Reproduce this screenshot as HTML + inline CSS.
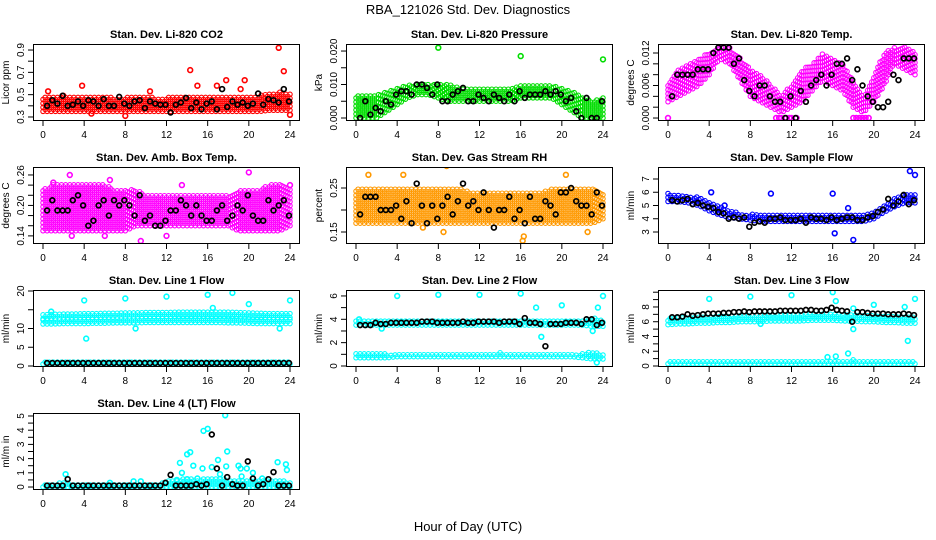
<!DOCTYPE html>
<html><head><meta charset="utf-8"><style>
html,body{margin:0;padding:0;background:#fff;}
svg{display:block;font-family:"Liberation Sans",Arial,sans-serif;}
</style></head><body>
<svg id="chart" width="936" height="540" viewBox="0 0 936 540" xmlns="http://www.w3.org/2000/svg">
<rect x="0" y="0" width="936" height="540" fill="#fff"/>
<text x="468" y="14" text-anchor="middle" font-size="13">RBA_121026  Std. Dev. Diagnostics</text>
<text x="468" y="531" text-anchor="middle" font-size="13">Hour of Day (UTC)</text>
</svg>
<script>
// ---- data (hour of day vs std. dev.) ----
const hourTicks = [0,4,8,12,16,20,24];
const bandHours = [0,1,2,3,4,5,6,7,8,9,10,11,12,13,14,15,16,17,18,19,20,21,22,23,24];

const co2Lo = [0.35,0.35,0.35,0.35,0.35,0.35,0.35,0.35,0.35,0.35,0.35,0.35,0.35,0.35,0.35,0.35,0.35,0.35,0.35,0.35,0.35,0.35,0.36,0.36,0.36];
const co2Hi = [0.47,0.48,0.49,0.48,0.48,0.48,0.48,0.47,0.47,0.48,0.48,0.47,0.47,0.48,0.48,0.48,0.48,0.48,0.48,0.48,0.48,0.49,0.51,0.52,0.50];
const co2Black = [0.40,0.45,0.42,0.49,0.40,0.41,0.44,0.40,0.45,0.44,0.40,0.46,0.40,0.40,0.48,0.42,0.40,0.44,0.45,0.38,0.44,0.42,0.41,0.41,0.34,0.41,0.43,0.47,0.38,0.43,0.37,0.42,0.44,0.37,0.55,0.39,0.44,0.41,0.43,0.40,0.42,0.51,0.41,0.46,0.45,0.43,0.55,0.44];
const co2Out = [[0.5,0.53],[3.8,0.58],[4.7,0.33],[8,0.31],[10.4,0.53],[14.3,0.72],[15,0.58],[17.8,0.63],[19.6,0.63],[22.9,0.92],[23.4,0.71],[24,0.32],[19.2,0.55],[16.9,0.58]];

const presLo = [0.000,0.000,0.000,0.002,0.004,0.006,0.007,0.007,0.006,0.005,0.005,0.005,0.005,0.005,0.005,0.005,0.006,0.006,0.006,0.006,0.004,0.002,0.000,0.000,0.000];
const presHi = [0.007,0.007,0.007,0.008,0.009,0.010,0.010,0.010,0.010,0.010,0.009,0.009,0.009,0.009,0.009,0.009,0.010,0.010,0.010,0.010,0.009,0.008,0.006,0.005,0.006];
const presBlack = [0.000,0.005,0.001,0.003,0.002,0.005,0.004,0.007,0.008,0.008,0.007,0.010,0.010,0.009,0.007,0.010,0.005,0.005,0.007,0.008,0.009,0.005,0.005,0.007,0.006,0.005,0.007,0.006,0.005,0.007,0.005,0.008,0.006,0.007,0.007,0.007,0.008,0.007,0.008,0.007,0.005,0.006,0.002,0.000,0.006,0.000,0.000,0.005];
const presOut = [[8,0.021],[16,0.0185],[24,0.0175]];

const tempLo = [0.003,0.004,0.005,0.006,0.008,0.011,0.010,0.007,0.004,0.003,0.002,0.001,0.002,0.003,0.005,0.007,0.006,0.005,0.002,0.001,0.003,0.006,0.010,0.009,0.008];
const tempHi = [0.006,0.009,0.010,0.011,0.012,0.013,0.013,0.011,0.009,0.008,0.006,0.004,0.006,0.009,0.010,0.012,0.011,0.010,0.007,0.004,0.008,0.012,0.013,0.013,0.012];
const tempBlack = [0.004,0.008,0.008,0.008,0.008,0.009,0.009,0.009,0.012,0.013,0.013,0.013,0.010,0.011,0.007,0.005,0.004,0.006,0.006,0.004,0.003,0.003,0.000,0.004,0.000,0.005,0.003,0.006,0.007,0.008,0.006,0.008,0.010,0.010,0.011,0.007,0.009,0.006,0.004,0.003,0.002,0.002,0.003,0.008,0.007,0.011,0.011,0.011];
const tempOut = [[0,0],[10.5,0],[10.8,0],[11,0],[11.5,0],[11.8,0],[12,0],[12.5,0],[18,0],[18.3,0],[18.6,0],[18.9,0],[19.2,0],[19.5,0]];

const ambLo = [0.15,0.15,0.15,0.15,0.15,0.15,0.15,0.15,0.15,0.16,0.16,0.16,0.16,0.16,0.16,0.16,0.16,0.16,0.16,0.15,0.15,0.15,0.15,0.15,0.16];
const ambHi = [0.23,0.24,0.24,0.24,0.24,0.24,0.24,0.23,0.23,0.23,0.22,0.22,0.22,0.22,0.22,0.22,0.22,0.22,0.22,0.23,0.23,0.23,0.24,0.24,0.23];
const ambBlack = [0.19,0.21,0.19,0.19,0.19,0.21,0.22,0.20,0.16,0.17,0.20,0.21,0.18,0.21,0.20,0.21,0.20,0.18,0.22,0.17,0.18,0.16,0.16,0.17,0.19,0.19,0.21,0.20,0.18,0.20,0.18,0.17,0.17,0.19,0.20,0.17,0.18,0.20,0.19,0.22,0.18,0.17,0.17,0.21,0.19,0.20,0.21,0.18];
const ambOut = [[1,0.245],[2.6,0.26],[6.5,0.25],[9.5,0.13],[6,0.14],[12,0.14],[20,0.265],[24,0.24],[13.5,0.24],[2.8,0.14]];

const rhLo = [0.17,0.17,0.17,0.17,0.17,0.17,0.17,0.17,0.17,0.17,0.17,0.17,0.17,0.17,0.17,0.17,0.17,0.17,0.17,0.17,0.17,0.17,0.17,0.17,0.18];
const rhHi = [0.25,0.25,0.25,0.25,0.25,0.25,0.25,0.25,0.25,0.25,0.25,0.24,0.24,0.24,0.24,0.24,0.24,0.24,0.24,0.25,0.25,0.25,0.25,0.25,0.24];
const rhBlack = [0.19,0.23,0.23,0.23,0.20,0.20,0.20,0.21,0.18,0.22,0.17,0.26,0.21,0.17,0.21,0.18,0.21,0.23,0.19,0.22,0.26,0.21,0.22,0.20,0.24,0.20,0.16,0.20,0.20,0.23,0.18,0.20,0.17,0.23,0.18,0.18,0.22,0.21,0.19,0.24,0.24,0.25,0.22,0.21,0.21,0.19,0.24,0.21];
const rhOut = [[1.2,0.28],[4.6,0.28],[8.8,0.30],[6.5,0.16],[8.5,0.15],[16.2,0.13],[16.3,0.14],[22.5,0.15],[20.4,0.28]];

const flowLo = [5.3,5.3,5.2,5.0,4.6,4.3,4.1,4.0,3.9,3.8,3.8,3.8,3.8,3.8,3.8,3.8,3.8,3.8,3.8,3.8,4.0,4.5,4.9,5.2,5.2];
const flowHi = [5.9,5.8,5.7,5.6,5.2,4.9,4.6,4.4,4.3,4.3,4.3,4.3,4.3,4.3,4.3,4.3,4.3,4.3,4.3,4.3,4.5,5.0,5.5,5.8,5.8];
const flowBlack = [5.4,5.3,5.4,5.5,5.1,5.2,5.0,4.9,4.8,4.5,4.4,4.0,4.1,4.0,4.1,3.4,3.7,3.8,3.7,4.0,4.0,4.1,3.9,3.9,3.9,4.0,3.7,4.1,4.0,4.0,3.9,4.1,3.9,4.0,4.1,4.1,3.9,3.9,4.1,4.2,4.5,4.7,5.5,5.0,5.3,5.8,5.1,5.4];
const flowOut = [[4.2,6.0],[10,5.9],[16,5.9],[16.2,2.9],[18,2.4],[23.5,7.6],[24,7.3],[5.5,5.0],[17.5,4.8]];

const line1LoA = [11.2,11.2,11.3,11.3,11.3,11.4,11.4,11.5,11.5,11.5,11.6,11.6,11.6,11.6,11.6,11.6,11.6,11.6,11.5,11.5,11.4,11.3,11.3,11.3,11.3];
const line1HiA = [12.4,12.4,12.5,12.5,12.5,12.6,12.6,12.7,12.7,12.7,12.8,12.8,12.8,12.8,12.8,12.8,12.8,12.8,12.7,12.7,12.6,12.5,12.5,12.5,12.5];
const line1LoB = [12.6,12.7,12.8,12.8,12.9,12.9,13.0,13.0,13.1,13.1,13.2,13.2,13.2,13.3,13.3,13.3,13.3,13.3,13.3,13.2,13.1,13.0,12.9,12.9,12.9];
const line1HiB = [13.6,13.7,13.8,13.8,13.9,13.9,14.0,14.0,14.1,14.1,14.2,14.2,14.2,14.3,14.3,14.3,14.3,14.3,14.3,14.2,14.1,14.0,13.9,13.9,13.9];
const line1LoC = [0.5,0.5,0.5,0.5,0.5,0.5,0.5,0.5,0.5,0.5,0.5,0.5,0.5,0.5,0.5,0.5,0.5,0.5,0.5,0.5,0.5,0.5,0.5,0.5,0.5];
const line1HiC = [1.0,1.0,1.0,1.0,1.0,1.0,1.0,1.0,1.0,1.0,1.0,1.0,1.0,1.0,1.0,1.0,1.0,1.0,1.0,1.0,1.0,1.0,1.0,1.0,1.0];
const line1Black = [0.8,0.8,0.8,0.8,0.8,0.8,0.8,0.8,0.8,0.8,0.8,0.8,0.8,0.8,0.8,0.8,0.8,0.8,0.8,0.8,0.8,0.8,0.8,0.8,0.8,0.8,0.8,0.8,0.8,0.8,0.8,0.8,0.8,0.8,0.8,0.8,0.8,0.8,0.8,0.8,0.8,0.8,0.8,0.8,0.8,0.8,0.8,0.8];
const line1Out = [[4,17.5],[4.2,7.3],[8,18],[9,10],[12,18.5],[16,19],[16.5,15.5],[18.4,19.5],[20,16.5],[23,10],[24,17.5],[0.8,14.5]];

const line2LoA = [3.5,3.5,3.5,3.5,3.5,3.5,3.5,3.5,3.5,3.5,3.5,3.5,3.5,3.5,3.5,3.5,3.5,3.5,3.5,3.5,3.5,3.5,3.5,3.4,3.4];
const line2HiA = [3.9,3.9,3.9,3.9,3.9,3.9,3.9,3.9,3.9,3.9,3.9,3.9,3.9,3.9,3.9,3.9,3.9,3.9,3.9,3.9,3.9,3.9,3.9,4.1,3.9];
const line2LoB = [0.7,0.7,0.7,0.7,0.8,0.8,0.8,0.8,0.8,0.8,0.8,0.8,0.8,0.8,0.8,0.8,0.8,0.8,0.8,0.8,0.8,0.8,0.7,0.6,0.6];
const line2HiB = [1.0,1.0,1.0,1.0,1.0,1.0,1.0,1.0,1.0,1.0,1.0,1.0,1.0,1.0,1.1,1.0,1.0,1.0,1.0,1.0,1.0,1.0,1.0,1.2,1.0];
const line2Black = [3.5,3.5,3.5,3.7,3.6,3.6,3.7,3.7,3.7,3.7,3.7,3.7,3.8,3.8,3.8,3.7,3.7,3.7,3.7,3.7,3.8,3.7,3.7,3.8,3.8,3.8,3.8,3.7,3.8,3.8,3.8,3.6,4.1,3.7,3.7,3.6,1.7,3.6,3.6,3.6,3.7,3.7,3.7,3.6,4.0,4.0,3.5,3.7];
const line2Out = [[4,6],[8,6.1],[12,6.1],[16,6.2],[17.5,5],[18,2.5],[20,5.2],[23,3],[23.4,0.3],[24,6],[23.5,5],[0.3,4.0],[2.5,3.2]];

const line3LoA = [5.6,5.7,5.7,5.8,5.8,5.9,5.9,6.0,6.0,6.0,6.1,6.1,6.1,6.1,6.2,6.2,6.2,6.1,6.1,6.0,6.0,5.9,5.9,5.8,5.8];
const line3HiA = [6.5,6.6,6.6,6.7,6.7,6.8,6.8,6.9,6.9,6.9,7.0,7.0,7.0,7.0,7.1,7.2,7.2,7.1,7.0,6.9,6.9,6.8,6.7,6.7,6.6];
const line3LoB = [0.3,0.3,0.3,0.3,0.3,0.3,0.3,0.3,0.3,0.3,0.3,0.3,0.3,0.3,0.3,0.3,0.3,0.3,0.3,0.3,0.3,0.3,0.3,0.3,0.3];
const line3HiB = [0.6,0.6,0.6,0.6,0.6,0.6,0.6,0.6,0.6,0.6,0.6,0.6,0.6,0.6,0.6,0.7,0.7,0.7,0.8,0.6,0.6,0.6,0.6,0.7,0.6];
const line3Black = [6.6,6.6,6.7,7.0,6.8,6.9,7.0,7.1,7.1,7.1,7.2,7.2,7.3,7.3,7.4,7.3,7.4,7.4,7.4,7.4,7.4,7.5,7.5,7.5,7.5,7.5,7.6,7.6,7.5,7.5,7.6,7.9,7.6,7.5,7.4,6.0,7.3,7.3,7.2,7.1,7.1,7.1,7.0,7.0,7.0,7.1,7.0,6.9];
const line3Out = [[4,9.1],[8,9.4],[9,5.7],[12,9.6],[16,10],[16.3,8.8],[18,5],[18,7.8],[20,8.3],[23,8],[23.3,3.4],[24,9.1],[15.5,1.2],[16.3,1.3],[17.5,1.7]];

const line4Lo = [0,0,0,0,0,0,0,0,0,0,0,0,0,0,0,0,0,0,0,0,0,0,0,0,0];
const line4Hi = [0.2,0.2,0.3,0.2,0.2,0.2,0.2,0.2,0.2,0.2,0.2,0.2,0.4,0.5,0.6,0.5,0.6,0.6,0.5,0.5,0.5,0.4,0.4,0.5,0.3];
const line4Black = [0.1,0.1,0.1,0.1,0.55,0.1,0.1,0.1,0.1,0.1,0.1,0.1,0.1,0.1,0.1,0.1,0.1,0.1,0.1,0.1,0.1,0.1,0.1,0.3,0.85,0.1,0.1,0.1,0.1,0.2,0.1,0.2,3.7,1.3,0.1,0.7,0.2,0.1,0.1,1.8,0.6,0.1,0.2,0.55,1.05,0.1,0.1,0.1];
const line4Out = [[2.2,0.9],[13.3,1.7],[13.5,1.0],[14,2.3],[14.3,2.45],[14.6,1.5],[15.5,1.3],[15.6,3.95],[16,4.1],[16.4,1.4],[17,1.9],[17.2,0.9],[17.7,5.05],[17.9,2.5],[17.8,1.45],[19,1.5],[19.2,1.3],[19.3,0.75],[19.8,1.3],[20.4,1.0],[21.3,0.6],[22.8,1.75],[23.6,1.6],[23.7,1.2],[14,0.55],[15,0.6],[13,0.5],[8.8,0.4],[9.5,0.4],[6.5,0.3]];

// ---- panel configs ----
const panels = [
 {name:'co2',title:'Stan. Dev. Li-820 CO2',ylab:'Licor ppm',col:0,row:0,ylo:0.264,yhi:0.954,ticks:[0.3,0.4,0.5,0.6,0.7,0.8,0.9],labels:[[0.3,'0.3'],[0.5,'0.5'],[0.7,'0.7'],[0.9,'0.9']],color:'#ff0000',bands:[[co2Lo,co2Hi]],black:co2Black,out:co2Out},
 {name:'pressure',title:'Stan. Dev. Li-820 Pressure',ylab:'kPa',col:1,row:0,ylo:-0.0009,yhi:0.0221,ticks:[0,0.005,0.01,0.015,0.02],labels:[[0,'0.000'],[0.01,'0.010'],[0.02,'0.020']],color:'#00dd00',bands:[[presLo,presHi]],black:presBlack,out:presOut},
 {name:'temp',title:'Stan. Dev. Li-820 Temp.',ylab:'degrees C',col:2,row:0,ylo:-0.00055,yhi:0.01366,ticks:[0,0.002,0.004,0.006,0.008,0.01,0.012],labels:[[0,'0.000'],[0.006,'0.006'],[0.012,'0.012']],color:'#ff00ff',bands:[[tempLo,tempHi]],black:tempBlack,out:tempOut},
 {name:'amb-box-temp',title:'Stan. Dev. Amb. Box Temp.',ylab:'degrees C',col:0,row:1,ylo:0.124,yhi:0.2757,ticks:[0.14,0.16,0.18,0.2,0.22,0.24,0.26],labels:[[0.14,'0.14'],[0.2,'0.20'],[0.26,'0.26']],color:'#ff00ff',bands:[[ambLo,ambHi]],black:ambBlack,out:ambOut},
 {name:'gas-rh',title:'Stan. Dev. Gas Stream RH',ylab:'percent',col:1,row:1,ylo:0.1227,yhi:0.2977,ticks:[0.15,0.2,0.25],labels:[[0.15,'0.15'],[0.25,'0.25']],color:'#ff9900',bands:[[rhLo,rhHi]],black:rhBlack,out:rhOut},
 {name:'sample-flow',title:'Stan. Dev. Sample Flow',ylab:'ml/min',col:2,row:1,ylo:2.094,yhi:7.906,ticks:[3,4,5,6,7],labels:[[3,'3'],[4,'4'],[5,'5'],[6,'6'],[7,'7']],color:'#0000ff',bands:[[flowLo,flowHi]],black:flowBlack,out:flowOut},
 {name:'line1-flow',title:'Stan. Dev. Line 1 Flow',ylab:'ml/min',col:0,row:2,ylo:-0.27,yhi:20.27,ticks:[0,5,10,15,20],labels:[[0,'0'],[5,'5'],[10,'10'],[20,'20']],color:'#00ffff',bands:[[line1LoA,line1HiA],[line1LoB,line1HiB],[line1LoC,line1HiC]],black:line1Black,out:line1Out},
 {name:'line2-flow',title:'Stan. Dev. Line 2 Flow',ylab:'ml/min',col:1,row:2,ylo:-0.086,yhi:6.51,ticks:[0,1,2,3,4,5,6],labels:[[0,'0'],[2,'2'],[4,'4'],[6,'6']],color:'#00ffff',bands:[[line2LoA,line2HiA],[line2LoB,line2HiB]],black:line2Black,out:line2Out},
 {name:'line3-flow',title:'Stan. Dev. Line 3 Flow',ylab:'ml/min',col:2,row:2,ylo:-0.136,yhi:10.3,ticks:[0,1,2,3,4,5,6,7,8,9,10],labels:[[0,'0'],[2,'2'],[4,'4'],[6,'6'],[8,'8']],color:'#00ffff',bands:[[line3LoA,line3HiA],[line3LoB,line3HiB]],black:line3Black,out:line3Out},
 {name:'line4-flow',title:'Stan. Dev. Line 4 (LT) Flow',ylab:'ml/m in',col:0,row:3,ylo:-0.21,yhi:5.21,ticks:[0,0.5,1,1.5,2,2.5,3,3.5,4,4.5,5],labels:[[0,'0'],[1,'1'],[2,'2'],[3,'3'],[4,'4'],[5,'5']],color:'#00ffff',bands:[[line4Lo,line4Hi]],black:line4Black,out:line4Out}
];

const NS='http://www.w3.org/2000/svg';
const svg=document.getElementById('chart');
const colLeft=[33,346,658], rowTop=[44,167,290,413], W=267, H=77;
function mk(tag,attrs,parent){const e=document.createElementNS(NS,tag);for(const k in attrs)e.setAttribute(k,attrs[k]);parent.appendChild(e);return e;}
function interp(arr,h){const i=Math.min(23,Math.floor(h));const t=h-i;return arr[i]*(1-t)+arr[i+1]*t;}

panels.forEach(p=>{
  const L=colLeft[p.col], T=rowTop[p.row], B=T+H;
  const xs=h=>L+10+h*(W-20)/24;
  const ys=v=>B-(v-p.ylo)/(p.yhi-p.ylo)*H;
  const g=mk('g',{},svg);
  
  
  const t=mk('text',{x:L+W/2,y:T-6,'text-anchor':'middle','font-size':'11','font-weight':'bold'},g);
  t.textContent=p.title;
  
  
  const clip='clip-'+p.name;
  const cp=mk('clipPath',{id:clip},g); mk('rect',{x:L,y:T,width:W,height:H},cp);
  const pts=mk('g',{'clip-path':'url(#'+clip+')',fill:'none','stroke-width':'1.1'},g);
  
  
  p.bands.forEach(([lo,hi])=>{
    let k=0;
    for(let h=0;h<=24.001;h+=0.2,k++){
      const y1=ys(interp(lo,h)), y2=ys(interp(hi,h));
      const off=(k%2)*2;
      for(let y=y1-off;y>=y2-0.5;y-=4){
        const c=mk('circle',{cx:xs(h).toFixed(1),cy:y.toFixed(1),r:2.2,stroke:p.color},pts);
        
        
      }
    }
  });
  p.out.forEach(([h,v])=>{
    const c=mk('circle',{cx:xs(h).toFixed(1),cy:ys(v).toFixed(1),r:2.4,stroke:p.color,'stroke-width':1.6},pts);
    
    
  });
  p.black.forEach((v,i)=>{
    const h=(i+1)*0.5-0.1;
    const c=mk('circle',{cx:xs(h).toFixed(1),cy:ys(v).toFixed(1),r:2.4,stroke:'#000','stroke-width':1.7},pts);
    
    
  });
  const box=mk('rect',{x:L+0.5,y:T+0.5,width:W-1,height:H-1,fill:'none',stroke:'#000','stroke-width':1},g);
  
  
  const xa=mk('g',{},g);
  
  
  hourTicks.forEach(h=>{
    mk('line',{x1:xs(h),x2:xs(h),y1:B,y2:B+5,stroke:'#000'},xa);
    const tx=mk('text',{x:xs(h),y:B+17,'text-anchor':'middle','font-size':'10'},xa);
    tx.textContent=h;
  });
  const ya=mk('g',{},g);
  
  
  p.ticks.forEach(v=>mk('line',{x1:L,x2:L-5,y1:ys(v),y2:ys(v),stroke:'#000'},ya));
  p.labels.forEach(([v,s])=>{
    const y=ys(v);
    const tx=mk('text',{x:L-9,y:y,'text-anchor':'middle','font-size':'10',transform:'rotate(-90 '+(L-9)+' '+y+')'},ya);
    tx.textContent=s;
  });
  const yl=mk('text',{x:L-24,y:T+H/2,'text-anchor':'middle','font-size':'10',transform:'rotate(-90 '+(L-24)+' '+(T+H/2)+')'},ya);
  yl.textContent=p.ylab;
  
  
});
</script>
</body></html>
